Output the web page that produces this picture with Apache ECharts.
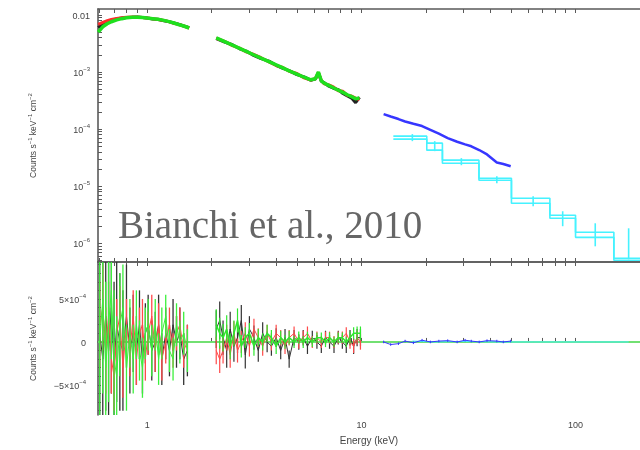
<!DOCTYPE html>
<html>
<head>
<meta charset="utf-8">
<script src="https://cdn.jsdelivr.net/npm/echarts@6/dist/echarts.min.js"></script>
<style>
  html, body { margin: 0; padding: 0; background: #fff; }
  #chart { width: 640px; height: 450px; }
</style>
</head>
<body>
<div id="chart"></div>
<script>
// ---------- 上图: 光谱 (counts s^-1 keV^-1 cm^-2) ----------
var lowE     = [0.59, 0.62, 0.65, 0.68, 0.72, 0.76, 0.80, 0.85, 0.90, 0.95, 1.00, 1.06, 1.12, 1.18, 1.25, 1.32, 1.40, 1.48, 1.57];
var lowGreen = [0.0050, 0.0062, 0.0070, 0.0076, 0.0082, 0.0086, 0.0089, 0.0091, 0.0091, 0.0090, 0.0088, 0.0086, 0.0084, 0.0081, 0.0077, 0.0073, 0.0068, 0.0064, 0.0059];
var lowRed   = [0.0068, 0.0074, 0.0079, 0.0083, 0.0087, 0.0089, 0.0091, 0.0092, 0.0091, 0.0090, 0.0088, 0.0086, 0.0083, 0.0081, 0.0077, 0.0072, 0.0068, 0.0064, 0.0059];
var lowBlack = [0.0060, 0.0068, 0.0075, 0.0080, 0.0085, 0.0088, 0.0090, 0.0091, 0.0092, 0.0090, 0.0088, 0.0085, 0.0084, 0.0080, 0.0077, 0.0073, 0.0069, 0.0064, 0.0060];

var highE     = [2.1, 2.3, 2.5, 2.7, 2.9, 3.1, 3.4, 3.7, 4.0, 4.3, 4.6, 5.0, 5.4, 5.8, 6.1, 6.3, 6.5, 6.7, 7.0, 7.4, 7.8, 8.2, 8.6, 9.0, 9.4, 9.8];
var highGreen = [3.95e-3, 3.40e-3, 2.95e-3, 2.60e-3, 2.30e-3, 2.05e-3, 1.75e-3, 1.52e-3, 1.33e-3, 1.18e-3, 1.05e-3, 9.2e-4, 8.1e-4, 7.3e-4, 7.6e-4, 1.0e-3, 7.0e-4, 6.4e-4, 5.9e-4, 5.3e-4, 4.8e-4, 4.4e-4, 4.0e-4, 3.7e-4, 3.4e-4, 3.5e-4];
var highRed   = [3.90e-3, 3.45e-3, 2.90e-3, 2.62e-3, 2.25e-3, 2.08e-3, 1.78e-3, 1.50e-3, 1.30e-3, 1.20e-3, 1.03e-3, 9.4e-4, 7.9e-4, 7.2e-4, 7.7e-4, 9.8e-4, 7.1e-4, 6.2e-4, 6.0e-4, 5.5e-4, 4.7e-4, 4.6e-4, 3.9e-4, 3.8e-4, 3.5e-4, 3.3e-4];
var highBlack = [3.85e-3, 3.35e-3, 3.00e-3, 2.55e-3, 2.32e-3, 2.00e-3, 1.72e-3, 1.55e-3, 1.31e-3, 1.16e-3, 1.06e-3, 9.0e-4, 8.2e-4, 7.2e-4, 7.5e-4, 9.7e-4, 6.9e-4, 6.5e-4, 5.7e-4, 5.2e-4, 4.9e-4, 4.2e-4, 3.8e-4, 3.5e-4, 2.9e-4, 3.6e-4];

// PIN (蓝)
var blueE    = [12.7, 13.7, 14.9, 16.0, 17.5, 19.2, 21.0, 23.0, 25.3, 28.0, 30.5, 32.6, 35.5, 38.6, 42.9, 46.0, 49.8];
var blueFlux = [1.83e-4, 1.66e-4, 1.50e-4, 1.36e-4, 1.24e-4, 1.13e-4, 9.7e-5, 8.3e-5, 6.95e-5, 6.0e-5, 5.4e-5, 5.0e-5, 4.3e-5, 3.6e-5, 2.6e-5, 2.45e-5, 2.24e-5];

// GSO (青) 阶梯: 边界 + 上下限
var cyanEdges = [14.1, 20.2, 23.9, 35.4, 50.2, 75.9, 100, 151, 200];
var cyanHi    = [7.53e-5, 5.68e-5, 2.86e-5, 1.38e-5, 6.15e-6, 3.10e-6, 1.56e-6, 5.46e-7];
var cyanLo    = [6.68e-5, 4.28e-5, 2.53e-5, 1.27e-5, 5.03e-6, 2.75e-6, 1.27e-6, 5.03e-7];
var cyanBarE  = [17.3, 22.0, 29.3, 42.9, 63.4, 87.1, 123.6, 177];
var cyanBarHi = [8.17e-5, 6.15e-5, 3.10e-5, 1.50e-5, 6.68e-6, 3.64e-6, 2.24e-6, 1.83e-6];
var cyanBarLo = [6.15e-5, 4.11e-5, 2.33e-5, 1.13e-5, 4.46e-6, 1.99e-6, 8.85e-7, 5.25e-7];

// ---------- 下图: 残差 (单位 1e-4) ----------
var RES_UNIT = 1e-4;
var resLowE    = [0.60, 0.62, 0.64, 0.66, 0.68, 0.70, 0.72, 0.745, 0.77, 0.80, 0.83, 0.86, 0.89, 0.92, 0.95, 0.98, 1.01, 1.05, 1.09, 1.13, 1.17, 1.22, 1.27, 1.32, 1.37, 1.42, 1.48, 1.54];
var resLowBlack    = [1, -2, 3, -1, 4, -3, 2, 0, -1, 3, -1, 1, -1, 2, -2, 1, 2, -1, 0, 2, -2, 1, -1, 2, 0, 1, -2, -1];
var resLowBlackErr = [12, 12, 11, 11, 10, 10, 9, 8, 7, 6, 5, 4.5, 4, 4, 4, 3.5, 3.5, 3.5, 3.5, 3.5, 3, 3, 3, 3, 3, 3, 3, 3];
var resLowRed      = [2, 4, -1, 3, -2, -4, 1, 3, -3, 2, -1, 3, -2, 1, 2, -2, 1, 3, -1, 2, -2, 0, 2, -1, 1, 2, -1, 0];
var resLowRedErr   = [5, 5, 5, 4, 4, 4, 4, 3.5, 3.5, 3, 3, 3, 3, 3, 3, 2.5, 2.5, 2.5, 2.5, 2.5, 2.5, 2.5, 2, 2, 2, 2, 2, 2];
var resLowGreen    = [0, 5, -3, 2, 6, -2, -4, 2, 4, -3, 1, -2, 2, -1, -3, 1, 2, -1, 2, -2, 1, 3, -1, -2, 2, 0, 1, -1];
var resLowGreenErr = [12, 11, 10, 9, 8, 8, 7, 6, 5, 5, 4, 4, 4, 3.5, 3.5, 3, 3, 3, 3, 3, 3, 2.5, 2.5, 2.5, 2.5, 2.5, 2.5, 2.5];

var resHighE = [2.10, 2.18, 2.26, 2.35, 2.44, 2.54, 2.64, 2.75, 2.87, 3.00, 3.15, 3.30, 3.46, 3.63, 3.80, 4.00, 4.20, 4.40, 4.60, 4.85, 5.10, 5.35, 5.60, 5.90, 6.20, 6.50, 6.80, 7.10, 7.45, 7.80, 8.15, 8.50, 8.85, 9.20, 9.55, 9.90];
var resHighBlack    = [1.5, 2.5, 0.5, -1, 1.5, -0.5, 0.5, 2.5, -1.5, 1.5, 0.5, -1, 1, 0, -0.5, 0.5, -1, 0.5, -2, 0.5, 0, 0.5, -0.5, 0.5, 0, -0.5, 0.5, 0, -0.5, 0.5, 0, -0.5, 0.5, -0.5, 0.5, 0.5];
var resHighBlackErr = [2.2, 2.2, 2, 2, 2, 1.8, 1.8, 1.8, 1.6, 1.5, 1.4, 1.3, 1.3, 1.2, 1.1, 1.1, 1, 1, 1, 0.9, 0.9, 0.9, 0.9, 0.8, 0.8, 0.8, 0.8, 0.8, 0.8, 0.8, 0.8, 0.8, 0.9, 0.9, 1, 1];
var resHighRed      = [-1, -2, -1, 0.5, -1.5, 1, -1, 0, 1, -0.5, 1.5, 0.5, -0.5, 1, 0, 1, 0.5, -0.5, 0.5, 1, 0, 0.5, 1, 0, 0.5, 0, 0.5, 0.5, 0, 0.5, 0.5, 1, 0, -0.5, 0.5, 0];
var resHighRedErr   = [1.6, 1.6, 1.5, 1.5, 1.5, 1.4, 1.4, 1.3, 1.3, 1.2, 1.2, 1.1, 1.1, 1, 1, 1, 0.9, 0.9, 0.9, 0.8, 0.8, 0.8, 0.8, 0.7, 0.7, 0.7, 0.7, 0.7, 0.7, 0.7, 0.7, 0.7, 0.8, 0.8, 0.8, 0.9];
var resHighGreen    = [2, 1, 0.5, 1.5, -0.5, 1, 2.5, -0.5, 0.5, 1, -0.5, 0.5, 0, 1, 0.5, -0.5, 0.5, 0, 0.5, 0, 0.5, 0, 0.5, 0, 0.5, 0.5, 0, 0.5, 0, 0.5, 0.5, 0, 0.5, 1, 1, 1];
var resHighGreenErr = [1.8, 1.8, 1.6, 1.6, 1.5, 1.5, 1.4, 1.3, 1.2, 1.2, 1.1, 1, 1, 1, 0.9, 0.9, 0.8, 0.8, 0.8, 0.7, 0.7, 0.7, 0.7, 0.6, 0.6, 0.6, 0.6, 0.6, 0.6, 0.6, 0.6, 0.6, 0.7, 0.7, 0.8, 0.8];

var resBlue    = [0, -0.3, -0.2, 0.1, -0.1, 0.2, 0, 0.1, 0.15, 0, 0.2, 0.1, 0, 0.15, 0.1, 0, 0.1];
var resBlueErr = [0.15, 0.15, 0.15, 0.15, 0.15, 0.15, 0.15, 0.15, 0.15, 0.15, 0.15, 0.15, 0.15, 0.15, 0.15, 0.15, 0.15];
var resCyan    = [0.1, 0, 0.05, 0, 0, 0, 0, 0];

// 坐标轴刻度
var xTicks = [0.6, 0.7, 0.8, 0.9, 1, 2, 3, 4, 5, 6, 7, 8, 9, 10, 20, 30, 40, 50, 60, 70, 80, 90, 100, 200];
var xLabels = [1, 10, 100];
var yTopLabels = [1e-6, 1e-5, 1e-4, 1e-3, 1e-2];
var yTopTicks = [5e-7, 6e-7, 7e-7, 8e-7, 9e-7, 1e-6, 2e-6, 3e-6, 4e-6, 5e-6, 6e-6, 7e-6, 8e-6, 9e-6,
                 1e-5, 2e-5, 3e-5, 4e-5, 5e-5, 6e-5, 7e-5, 8e-5, 9e-5, 1e-4, 2e-4, 3e-4, 4e-4, 5e-4, 6e-4, 7e-4, 8e-4, 9e-4,
                 1e-3, 2e-3, 3e-3, 4e-3, 5e-3, 6e-3, 7e-3, 8e-3, 9e-3, 1e-2];
var yResLabels = [-5e-4, 0, 5e-4];
var yResTicks = [-8e-4, -7e-4, -6e-4, -5e-4, -4e-4, -3e-4, -2e-4, -1e-4, 0, 1e-4, 2e-4, 3e-4, 4e-4, 5e-4, 6e-4, 7e-4, 8e-4, 9e-4];

var X_MIN = 0.589, X_MAX = 200;
var YT_MIN = 4.7e-7, YT_MAX = 0.0127;
var YR_MIN = -8.5e-4, YR_MAX = 9.3e-4;

var C_BLACK = '#222222', C_RED = '#ff2a2a', C_GREEN = '#1ee01e', C_BLUE = '#3636ff', C_CYAN = '#45f2ff';
var AX_COLOR = '#5a5a5a';
var FONT = 'Liberation Sans';

function pairs(xs, ys, scale) {
    var k = scale || 1;
    return xs.map(function (x, i) { return [x, ys[i] * k]; });
}

// 误差棒 [x, lo, hi], 夹到坐标范围内
function bars(xs, lo, hi, ymin, ymax) {
    return xs.map(function (x, i) {
        return [x, Math.max(lo[i], ymin), Math.min(hi[i], ymax)];
    });
}
function resBars(xs, vals, errs) {
    var lo = vals.map(function (v, i) { return (v - errs[i]) * RES_UNIT; });
    var hi = vals.map(function (v, i) { return (v + errs[i]) * RES_UNIT; });
    return bars(xs, lo, hi, YR_MIN, YR_MAX);
}

function errSeries(data, color, width, xi, yi, z) {
    return {
        type: 'custom', xAxisIndex: xi, yAxisIndex: yi, data: data, silent: true, z: z,
        renderItem: function (params, api) {
            var p1 = api.coord([api.value(0), api.value(1)]);
            var p2 = api.coord([api.value(0), api.value(2)]);
            return { type: 'line', shape: { x1: p1[0], y1: p1[1], x2: p2[0], y2: p2[1] },
                     style: { stroke: color, lineWidth: width } };
        }
    };
}

function lineSeries(data, color, width, xi, yi, z, step) {
    return {
        type: 'line', xAxisIndex: xi, yAxisIndex: yi, data: data, showSymbol: false, symbol: 'none',
        step: step || false, silent: true, z: z, animation: false,
        lineStyle: { color: color, width: width }
    };
}

// 每段数据末尾补一点, 用于阶梯
function stepData(edges, vals) {
    var d = vals.map(function (v, i) { return [edges[i], v]; });
    d.push([edges[vals.length], vals[vals.length - 1]]);
    return d;
}

function xAxisCfg(gridIndex, pos, showLabel) {
    return {
        type: 'log', logBase: 10, gridIndex: gridIndex, position: pos, min: X_MIN, max: X_MAX,
        axisLine: { show: true, lineStyle: { color: AX_COLOR, width: 1.6 } },
        axisTick: { show: true, inside: true, length: 4, customValues: xTicks, lineStyle: { color: AX_COLOR } },
        axisLabel: { show: showLabel, customValues: xLabels, fontSize: 9, color: '#444', fontFamily: FONT, margin: 6,
                     formatter: function (v) { return String(Math.round(v)); } },
        splitLine: { show: false }, minorTick: { show: false }
    };
}

var supRich = {
    b: { fontSize: 9, color: '#444', fontFamily: FONT, lineHeight: 12, verticalAlign: 'bottom' },
    s: { fontSize: 6, color: '#444', fontFamily: FONT, lineHeight: 12, verticalAlign: 'top' }
};
var titleRich = {
    b: { fontSize: 8.5, color: '#444', fontFamily: FONT, lineHeight: 11, verticalAlign: 'bottom' },
    s: { fontSize: 6, color: '#444', fontFamily: FONT, lineHeight: 11, verticalAlign: 'top' }
};
var yTitle = '{b|Counts s}{s|−1}{b| keV}{s|−1}{b| cm}{s|−2}';

var chart = echarts.init(document.getElementById('chart'), null, { renderer: 'canvas' });

var option = {
    animation: false,
    backgroundColor: '#fff',
    grid: [
        { left: 98, top: 9, width: 550.5, height: 253 },
        { left: 98, top: 262, width: 550.5, height: 153 }
    ],
    xAxis: [
        xAxisCfg(0, 'bottom', false),
        xAxisCfg(0, 'top', false),
        Object.assign(xAxisCfg(1, 'bottom', true), {
            name: 'Energy (keV)', nameLocation: 'middle', nameGap: 21,
            nameTextStyle: { fontSize: 10, color: '#444', fontFamily: FONT }
        }),
        xAxisCfg(1, 'top', false)
    ],
    yAxis: [
        {
            type: 'log', logBase: 10, gridIndex: 0, min: YT_MIN, max: YT_MAX,
            name: yTitle, nameLocation: 'middle', nameGap: 60, nameRotate: 90,
            nameTextStyle: { rich: titleRich },
            axisLine: { show: true, lineStyle: { color: AX_COLOR, width: 1.6 } },
            axisTick: { show: true, inside: true, length: 4, customValues: yTopTicks, lineStyle: { color: AX_COLOR } },
            axisLabel: {
                customValues: yTopLabels, margin: 8, rich: supRich,
                formatter: function (v) {
                    var e = Math.round(Math.log(v) / Math.LN10);
                    if (e === -2) return '{b|0.01}';
                    return '{b|10}{s|−' + (-e) + '}';
                }
            },
            splitLine: { show: false }
        },
        {
            type: 'value', gridIndex: 1, min: YR_MIN, max: YR_MAX,
            name: yTitle, nameLocation: 'middle', nameGap: 60, nameRotate: 90,
            nameTextStyle: { rich: titleRich },
            axisLine: { show: true, lineStyle: { color: AX_COLOR, width: 1.6 } },
            axisTick: { show: true, inside: true, length: 3, customValues: yResTicks, lineStyle: { color: AX_COLOR } },
            axisLabel: {
                customValues: yResLabels, margin: 12, rich: supRich,
                formatter: function (v) {
                    if (Math.abs(v) < 1e-9) return '{b|0}';
                    return (v < 0 ? '{b|−5×10}' : '{b|5×10}') + '{s|−4}';
                }
            },
            splitLine: { show: false }
        }
    ],
    graphic: [
        {
            type: 'text', x: 118, y: 228, z: 100,
            style: { text: 'Bianchi et al., 2010', font: '39px "Liberation Serif"', fill: '#666666', verticalAlign: 'middle' }
        }
    ],
    series: [
        // 上图
        lineSeries(pairs(lowE, lowBlack), C_BLACK, 3, 0, 0, 2),
        lineSeries(pairs(lowE, lowRed), C_RED, 3, 0, 0, 3),
        lineSeries(pairs(lowE, lowGreen), C_GREEN, 3.5, 0, 0, 4),
        lineSeries(pairs(highE, highBlack), C_BLACK, 3, 0, 0, 2),
        lineSeries(pairs(highE, highRed), C_RED, 3, 0, 0, 3),
        lineSeries(pairs(highE, highGreen), C_GREEN, 3.5, 0, 0, 4),
        lineSeries(pairs(blueE, blueFlux), C_BLUE, 2.5, 0, 0, 3),
        lineSeries(stepData(cyanEdges, cyanHi), C_CYAN, 1.6, 0, 0, 3, 'end'),
        lineSeries(stepData(cyanEdges, cyanLo), C_CYAN, 1.6, 0, 0, 3, 'end'),
        errSeries(bars(cyanBarE, cyanBarLo, cyanBarHi, YT_MIN, YT_MAX), C_CYAN, 1.6, 0, 0, 3),

        // 下图: 零线
        lineSeries([[X_MIN, 0], [X_MAX, 0]], '#6cff6c', 1.6, 2, 1, 1),
        // 残差 黑/红/绿
        errSeries(resBars(resLowE, resLowBlack, resLowBlackErr), '#333', 1.3, 2, 1, 2),
        lineSeries(pairs(resLowE, resLowBlack, RES_UNIT), '#333', 1, 2, 1, 2),
        errSeries(resBars(resLowE, resLowRed, resLowRedErr), '#ff4a4a', 1.3, 2, 1, 3),
        lineSeries(pairs(resLowE, resLowRed, RES_UNIT), '#ff4a4a', 1, 2, 1, 3),
        errSeries(resBars(resLowE, resLowGreen, resLowGreenErr), '#3cf03c', 1.3, 2, 1, 4),
        lineSeries(pairs(resLowE, resLowGreen, RES_UNIT), '#3cf03c', 1, 2, 1, 4),

        errSeries(resBars(resHighE, resHighBlack, resHighBlackErr), '#333', 1.2, 2, 1, 2),
        lineSeries(pairs(resHighE, resHighBlack, RES_UNIT), '#333', 1, 2, 1, 2),
        errSeries(resBars(resHighE, resHighRed, resHighRedErr), '#ff4a4a', 1.2, 2, 1, 3),
        lineSeries(pairs(resHighE, resHighRed, RES_UNIT), '#ff4a4a', 1, 2, 1, 3),
        errSeries(resBars(resHighE, resHighGreen, resHighGreenErr), '#2ee82e', 1.2, 2, 1, 4),
        lineSeries(pairs(resHighE, resHighGreen, RES_UNIT), '#2ee82e', 1.5, 2, 1, 4),

        errSeries(resBars(blueE, resBlue, resBlueErr), C_BLUE, 1, 2, 1, 3),
        lineSeries(pairs(blueE, resBlue, RES_UNIT), C_BLUE, 1, 2, 1, 3),
        lineSeries(pairs(cyanBarE, resCyan, RES_UNIT), C_CYAN, 1, 2, 1, 2)
    ]
};

chart.setOption(option);
</script>
</body>
</html>
